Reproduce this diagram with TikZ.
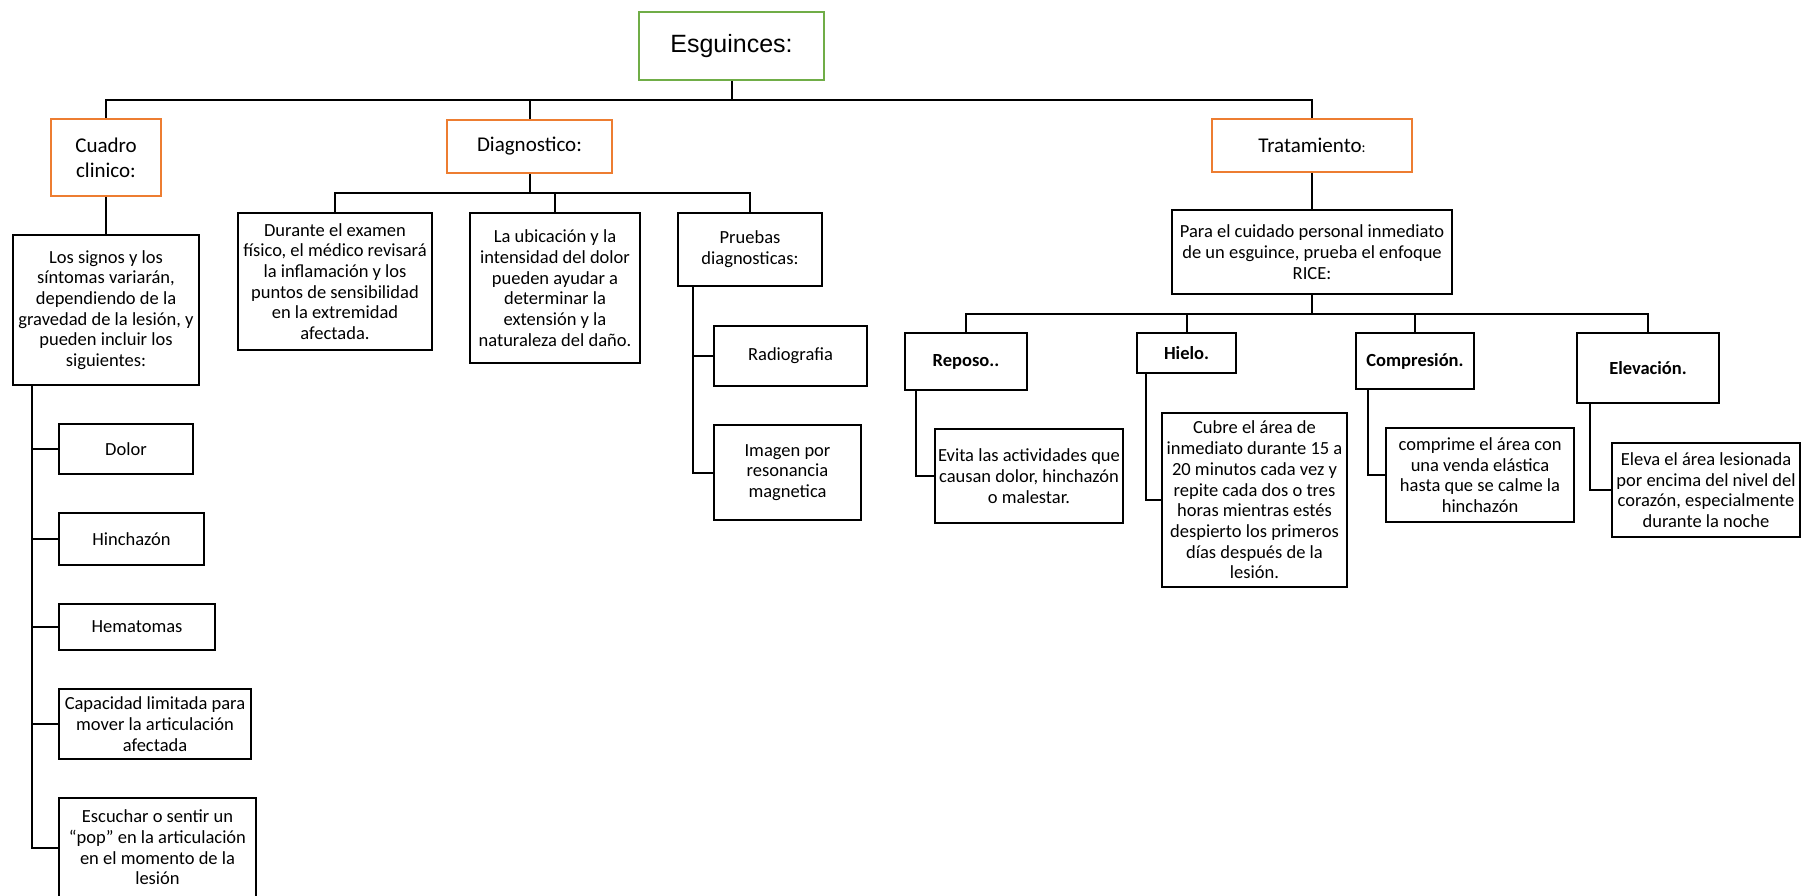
\documentclass[tikz,border=0pt]{standalone}
\usepackage{fontspec}
\setmainfont{Carlito}
\newfontfamily\arialfont{Liberation Sans}
\usepackage{xcolor}
\usetikzlibrary{positioning}

\definecolor{headorange}{HTML}{ED7D31}
\definecolor{rootgreen}{HTML}{70AD47}

\begin{document}
\begin{tikzpicture}[x=1pt, y=-1pt, line width=2pt,
  box/.style={rectangle, draw, align=center, inner sep=1pt, font=\fontsize{18.5}{20.7}\selectfont},
  head/.style={box, draw=headorange, font=\fontsize{21}{25}\selectfont},
  rice/.style={box, font=\fontsize{18.5}{20.7}\selectfont\bfseries}]
  \fill[white] (0,0) rectangle (1819,896);
  \useasboundingbox (0,0) rectangle (1819,896);
  % Nodes
  \node (esg) [rectangle, draw=rootgreen, minimum width=185pt, minimum height=68pt, font=\arialfont\fontsize{25}{30}\selectfont] at (731.5, 46) {Esguinces:};
  \node (cuadro) [head, minimum width=110pt, minimum height=77pt] at (106, 157.5) {Cuadro\\clinico:};
  \node (diag) [head, minimum width=165pt, minimum height=53pt] at (529.5, 146.5) {Diagnostico:};
  \node (trat) [head, minimum width=200pt, minimum height=53pt] at (1312, 145.5) {Tratamiento{\fontsize{15}{18}\selectfont:}};
  % Cuadro clinico
  \node (signos) [box, minimum width=186pt, minimum height=150pt] at (106, 310) {Los signos y los\\síntomas variarán,\\dependiendo de la\\gravedad de la lesión, y\\pueden incluir los\\siguientes:};
  \node (dolor) [box, minimum width=134pt, minimum height=50pt] at (126, 449) {Dolor};
  \node (hinch) [box, minimum width=145pt, minimum height=52pt] at (131.5, 539) {Hinchazón};
  \node (hemat) [box, minimum width=156pt, minimum height=46pt] at (137, 627) {Hematomas};
  \node (capac) [box, minimum width=192pt, minimum height=70pt] at (155, 724) {Capacidad limitada para\\mover la articulación\\afectada};
  \node (escuchar) [box, minimum width=197pt, minimum height=99pt] at (157.5, 847.5) {Escuchar o sentir un\\“pop” en la articulación\\en el momento de la\\lesión};
  % Diagnostico
  \node (durante) [box, minimum width=194pt, minimum height=137pt] at (335, 281.5) {Durante el examen\\físico, el médico revisará\\la inflamación y los\\puntos de sensibilidad\\en la extremidad\\afectada.};
  \node (ubic) [box, minimum width=170pt, minimum height=150pt] at (555, 288) {La ubicación y la\\intensidad del dolor\\pueden ayudar a\\determinar la\\extensión y la\\naturaleza del daño.};
  \node (pruebas) [box, minimum width=144pt, minimum height=73pt] at (750, 249.5) {Pruebas\\diagnosticas:};
  \node (radio) [box, minimum width=153pt, minimum height=60pt] at (790.5, 356) {Radiografia};
  \node (imagen) [box, minimum width=147pt, minimum height=95pt] at (787.5, 472.5) {Imagen por\\resonancia\\magnetica};
  % Tratamiento
  \node (para) [box, minimum width=280pt, minimum height=84pt] at (1312, 252) {Para el cuidado personal inmediato\\de un esguince, prueba el enfoque\\RICE:};
  \node (reposo) [rice, minimum width=122pt, minimum height=57pt] at (966, 361.5) {Reposo..};
  \node (hielo) [rice, minimum width=99pt, minimum height=40pt] at (1186.5, 353) {Hielo.};
  \node (compr) [rice, minimum width=118pt, minimum height=56pt] at (1415, 361) {Compresión.};
  \node (elev) [rice, minimum width=142pt, minimum height=70pt] at (1648, 368) {Elevación.};
  \node (evita) [box, minimum width=188pt, minimum height=94pt] at (1029, 476) {Evita las actividades que\\causan dolor, hinchazón\\o malestar.};
  \node (cubre) [box, minimum width=185pt, minimum height=174pt] at (1254.5, 500) {Cubre el área de\\inmediato durante 15 a\\20 minutos cada vez y\\repite cada dos o tres\\horas mientras estés\\despierto los primeros\\días después de la\\lesión.};
  \node (comprime) [box, minimum width=188pt, minimum height=94pt] at (1480, 475) {comprime el área con\\una venda elástica\\hasta que se calme la\\hinchazón};
  \node (eleva) [box, minimum width=188pt, minimum height=94pt] at (1706, 490) {Eleva el área lesionada\\por encima del nivel del\\corazón, especialmente\\durante la noche};
  % Lines
  \coordinate (bus) at (esg.south |- 0,100);
  \draw (esg.south) -- (bus);
  \foreach \n in {cuadro, diag, trat} \draw (bus) -| (\n.north);
  \draw (cuadro) -- (signos);
  \coordinate (lt) at (32,0 |- signos.south);
  \foreach \n in {dolor, hinch, hemat, capac, escuchar} \draw (lt) |- (\n.west);
  \coordinate (dbus) at (diag.south |- 0,193);
  \draw (diag.south) -- (dbus);
  \foreach \n in {durante, ubic, pruebas} \draw (dbus) -| (\n.north);
  \coordinate (pt) at (693,0 |- pruebas.south);
  \draw (pt) |- (radio.west);
  \draw (pt) |- (imagen.west);
  \draw (trat) -- (para);
  \coordinate (rbus) at (para.south |- 0,314);
  \draw (para.south) -- (rbus);
  \foreach \n in {reposo, hielo, compr, elev} \draw (rbus) -| (\n.north);
  \draw ([xshift=12pt]reposo.south west) |- (evita.west);
  \draw ([xshift=10pt]hielo.south west) |- (cubre.west);
  \draw ([xshift=13pt]compr.south west) |- (comprime.west);
  \draw ([xshift=14pt]elev.south west) |- (eleva.west);
\end{tikzpicture}
\end{document}
